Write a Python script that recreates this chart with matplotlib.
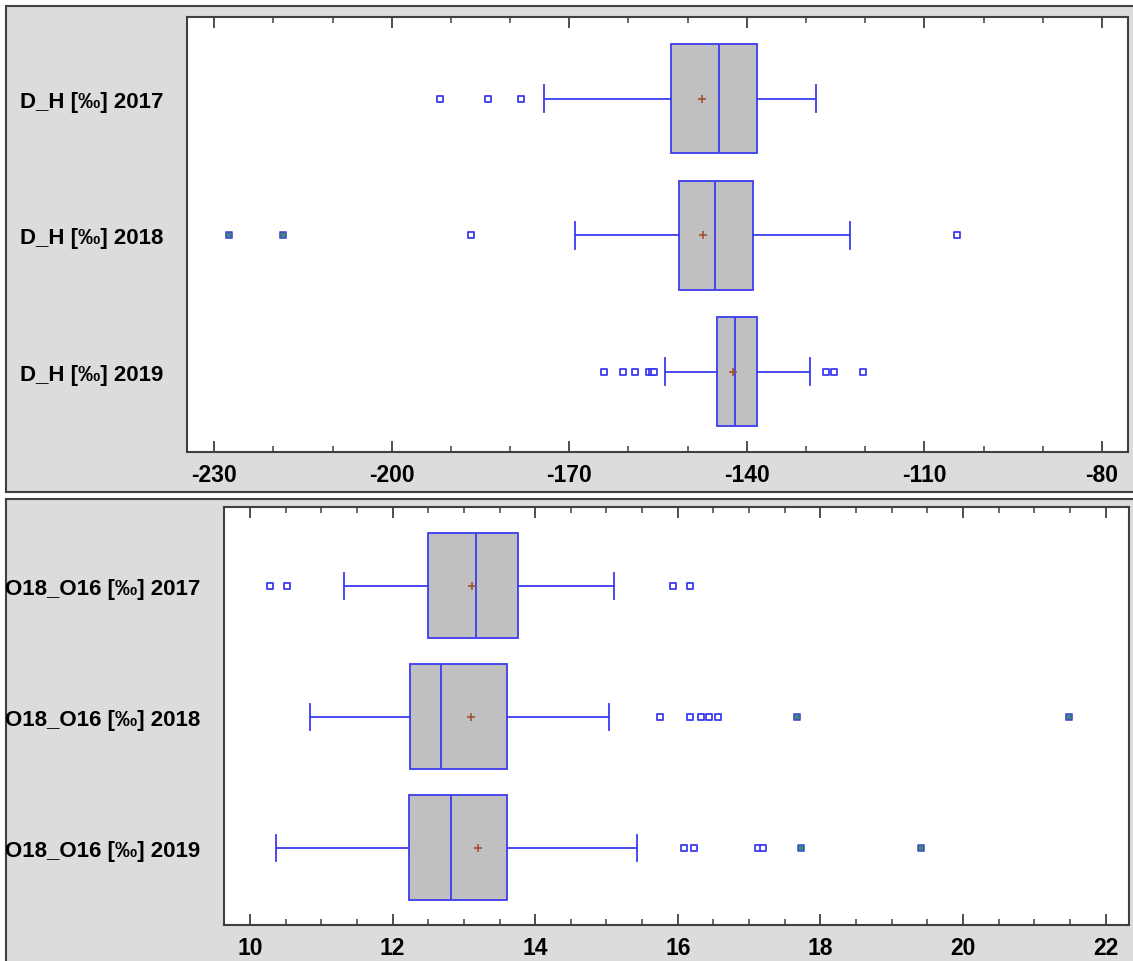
import numpy as np
import matplotlib
matplotlib.use("Agg")
from matplotlib import pyplot as plt
from matplotlib.patches import Rectangle
from matplotlib.ticker import MultipleLocator, FixedLocator

plt.rcParams['font.family'] = ['Liberation Sans', 'DejaVu Sans']
plt.rcParams['axes.unicode_minus'] = False

# 数据
dh_labels = ["D_H [‰] 2017", "D_H [‰] 2018", "D_H [‰] 2019"]
dh_whislo = [-174.2, -169.1, -153.9]
dh_q1 = [-152.8, -151.4, -145.1]
dh_med = [-144.7, -145.4, -142.0]
dh_q3 = [-138.3, -139.0, -138.3]
dh_whishi = [-128.3, -122.6, -129.4]
dh_mean = [-147.5, -147.4, -142.4]
dh_out = [[-191.9, -183.8, -178.1],
          [-186.6, -104.5],
          [-164.2, -160.9, -158.9, -156.5, -156.1, -155.7, -126.7, -125.2, -120.3]]
dh_far = [[], [-227.5, -218.3], []]
dh_ticks = [-230, -200, -170, -140, -110, -80]

o_labels = ["O18_O16 [‰] 2017", "O18_O16 [‰] 2018", "O18_O16 [‰] 2019"]
o_whislo = [11.32, 10.84, 10.37]
o_q1 = [12.50, 12.25, 12.23]
o_med = [13.17, 12.68, 12.82]
o_q3 = [13.76, 13.60, 13.60]
o_whishi = [15.11, 15.03, 15.43]
o_mean = [13.12, 13.10, 13.20]
o_out = [[10.28, 10.52, 15.93, 16.17],
         [15.75, 16.17, 16.32, 16.44, 16.56],
         [16.09, 16.23, 17.12, 17.20]]
o_far = [[], [17.67, 21.49], [17.73, 19.41]]
o_ticks = [10, 12, 14, 16, 18, 20, 22]

BLUE = "#3c3cf0"
BOXGRAY = "#c0c0c0"
PANEL = "#dcdcdc"
EDGE = "#404040"


def draw_panel(ax, labels, whislo, q1, med, q3, whishi, mean, out, far, xlim, ticks, minor):
    pos = [3, 2, 1]
    stats = []
    for i in range(3):
        stats.append(dict(label=labels[i], whislo=whislo[i], q1=q1[i], med=med[i],
                          q3=q3[i], whishi=whishi[i], mean=mean[i], fliers=[]))
    ax.bxp(stats, positions=pos, vert=False, widths=0.8, patch_artist=True,
           showmeans=True, showfliers=False, shownotches=False,
           boxprops=dict(facecolor=BOXGRAY, edgecolor=BLUE, linewidth=1.3),
           medianprops=dict(color=BLUE, linewidth=1.3),
           whiskerprops=dict(color=BLUE, linewidth=1.3),
           capprops=dict(color=BLUE, linewidth=1.3),
           capwidths=0.2,
           meanprops=dict(marker="+", markeredgecolor="#a0522d", markersize=6, markeredgewidth=1.2))
    for i in range(3):
        if out[i]:
            ax.scatter(out[i], [pos[i]] * len(out[i]), marker="s", s=18, facecolor="white",
                       edgecolor=BLUE, linewidth=1.3, zorder=4)
        if far[i]:
            ax.scatter(far[i], [pos[i]] * len(far[i]), marker="s", s=22, facecolor="#3f8a78",
                       edgecolor="#4050c8", linewidth=1.2, zorder=4)
    ax.set_xlim(*xlim)
    ax.set_ylim(0.41, 3.6)
    ax.set_yticks(pos)
    ax.set_yticklabels(labels, fontsize=16, fontweight="bold")
    ax.tick_params(axis="y", length=0, pad=17)
    ax.xaxis.set_major_locator(FixedLocator(ticks))
    ax.xaxis.set_minor_locator(MultipleLocator(minor))
    ax.tick_params(axis="x", which="major", direction="in", length=8, width=1.3,
                   top=True, color=EDGE, labelsize=16.5, pad=8)
    ax.tick_params(axis="x", which="minor", direction="in", length=4, width=1.1,
                   top=True, color=EDGE)
    for lab in ax.get_xticklabels():
        lab.set_fontweight("bold")
    for sp in ax.spines.values():
        sp.set_color(EDGE)
        sp.set_linewidth(1.5)
    ax.set_facecolor("white")


fig = plt.figure(figsize=(11.33, 9.62), dpi=100)
fig.patch.set_facecolor("white")
fig.add_artist(Rectangle((0.0053, 0.4875), 1.0, 0.5052, transform=fig.transFigure,
                         facecolor=PANEL, edgecolor=EDGE, linewidth=1.5, zorder=0))
fig.add_artist(Rectangle((0.0053, -0.01), 1.0, 0.4902, transform=fig.transFigure,
                         facecolor=PANEL, edgecolor=EDGE, linewidth=1.5, zorder=0))

ax1 = fig.add_axes([0.1650, 0.5291, 0.8306, 0.4522])
draw_panel(ax1, dh_labels, dh_whislo, dh_q1, dh_med, dh_q3, dh_whishi, dh_mean,
           dh_out, dh_far, (-234.6, -75.6), dh_ticks, 10)

ax2 = fig.add_axes([0.1977, 0.0374, 0.7988, 0.4345])
draw_panel(ax2, o_labels, o_whislo, o_q1, o_med, o_q3, o_whishi, o_mean,
           o_out, o_far, (9.635, 22.33), o_ticks, 0.5)

fig.savefig("out.png", dpi=100, facecolor=fig.get_facecolor())
